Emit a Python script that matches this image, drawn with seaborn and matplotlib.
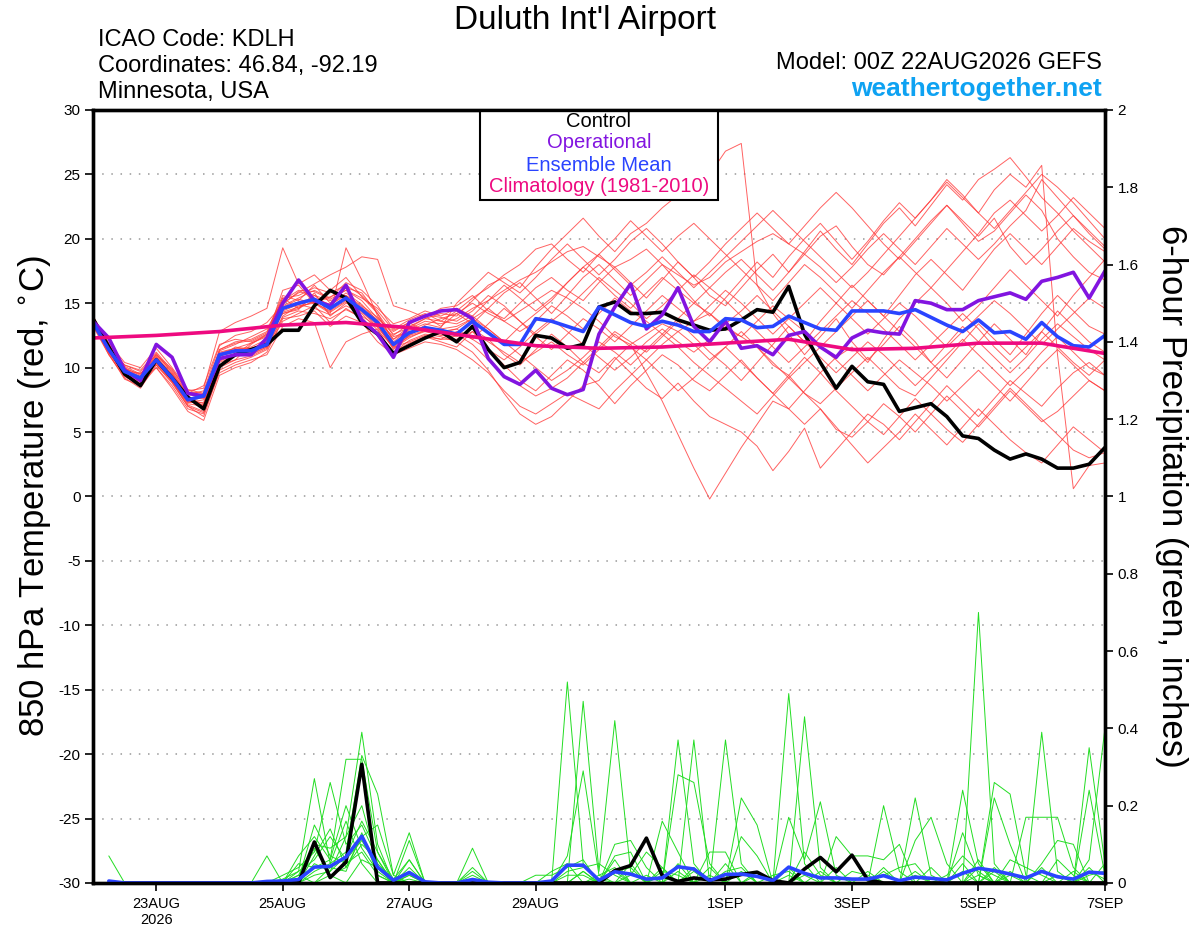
"""
GEFS meteogram - Duluth Int'l Airport (KDLH)
850 hPa temperature (red members) and 6-hour precipitation (green members)
"""

import numpy as np
import pandas as pd
import matplotlib
matplotlib.use("Agg")
import matplotlib.pyplot as plt
import matplotlib.ticker as mticker
from matplotlib.patches import Rectangle
import seaborn as sns

# ── Data ──────────────────────────────────────────────────────────────────────
TIMES = pd.date_range("2026-08-22 00:00", periods=65, freq="6h")
PCP_TIMES = TIMES[1:]
CLIM_TIMES = pd.date_range("2026-08-22 00:00", periods=17, freq="D")

CONTROL_T = [13.8, 11.6, 9.5, 8.6, 10.6, 9.2, 7.7, 6.8, 10.1, 11.0, 11.4, 11.8, 12.9,
             12.9, 14.8, 16.0, 15.4, 13.5, 12.6, 11.1, 11.7, 12.3, 12.8,
             12.0, 13.2, 11.4, 10.0, 10.4, 12.5, 12.3, 11.5, 11.8, 14.7, 15.1, 14.2,
             14.2, 14.3, 13.7, 13.3, 12.9, 13.0, 13.7, 14.5, 14.3, 16.3,
             12.6, 10.4, 8.4, 10.1, 8.9, 8.7, 6.6, 6.9, 7.2, 6.2, 4.7, 4.5, 3.6, 2.9,
             3.3, 2.9, 2.2, 2.2, 2.5, 3.8]
OPER_T = [13.6, 12.3, 9.8, 9.0, 11.8, 10.8, 8.0, 7.8, 10.7, 11.0, 11.0, 12.3, 15.0,
          16.8, 15.2, 14.8, 16.4, 13.7, 12.6, 10.8, 13.5, 14.0, 14.4,
          14.5, 13.8, 10.7, 9.3, 8.7, 9.8, 8.4, 7.9, 8.3, 12.6, 14.7, 16.5,
          13.0, 14.1, 16.2, 13.2, 12.0, 13.6, 11.5, 11.7, 11.0, 12.5,
          12.8, 11.6, 10.8, 12.3, 12.9, 12.7, 12.6, 15.2, 15.0, 14.5, 14.5, 15.2,
          15.5, 15.8, 15.3, 16.7, 17.0, 17.4, 15.4, 17.5]
MEAN_T = [13.5, 11.4, 9.7, 9.2, 10.6, 9.2, 7.5, 7.8, 11.0, 11.3, 11.3, 11.8, 14.6,
          15.0, 15.3, 14.6, 15.4, 14.5, 13.5, 11.8, 12.7, 13.1, 12.9,
          12.6, 13.6, 12.7, 11.8, 11.8, 13.8, 13.6, 13.2, 12.8, 14.7, 14.1, 13.5,
          13.2, 13.6, 13.3, 12.8, 12.8, 13.8, 13.7, 13.1, 13.2, 14.0,
          13.5, 13.0, 12.9, 14.4, 14.4, 14.4, 14.2, 14.5, 13.9, 13.3, 12.8, 13.7,
          12.7, 12.8, 12.2, 13.5, 12.4, 11.7, 11.6, 12.5]
CLIM_T = [12.3, 12.5, 12.8, 13.3, 13.5, 13.1, 12.4, 11.7, 11.5, 11.6, 11.9, 12.2,
          11.4, 11.5, 11.9, 11.9, 11.1]

MEMBERS_T = [
    [13.9, 11.8, 10.0, 9.4, 10.9, 9.5, 7.8, 7.0, 11.4, 12.0, 12.2, 12.8, 15.6, 15.2, 16.4, 15.0, 16.2, 15.8, 14.2, 12.0, 13.0, 13.6, 13.4,
     13.8, 14.6, 15.2, 16.0, 16.8, 17.4, 18.2, 19.0, 19.4, 18.6, 17.8, 18.4, 19.2, 18.0, 17.2, 16.4, 17.0, 18.2,
     19.0, 19.8, 20.4, 19.6, 18.8, 20.2, 21.0, 19.4, 18.0, 17.2, 18.6, 20.0, 21.4, 22.6, 21.2, 19.8, 20.6, 22.0, 23.4, 22.2, 20.0, 18.6, 17.4, 16.8],
    [13.4, 11.0, 9.2, 8.4, 10.2, 8.8, 7.0, 6.2, 9.8, 10.4, 10.8, 11.4, 13.6, 14.2, 14.8, 13.5, 14.6, 13.8, 12.7, 11.2, 12.1, 12.6, 12.4,
     12.0, 11.2, 9.8, 8.0, 6.4, 5.6, 6.2, 7.4, 8.6, 9.0, 10.6, 11.8, 12.6, 13.4, 12.8, 13.6, 14.2, 13.0,
     12.4, 11.6, 10.2, 9.4, 8.0, 7.2, 8.4, 9.6, 10.8, 9.6, 8.4, 7.8, 9.2, 10.6, 12.0, 13.4, 12.2, 11.0, 12.6, 14.2, 15.6, 14.4, 13.2, 12.6],
    [13.7, 11.5, 10.2, 9.8, 11.2, 9.8, 8.2, 8.4, 12.8, 13.5, 14.0, 14.6, 19.3, 16.5, 17.2, 16.0, 17.0, 15.5, 14.2, 12.5, 13.4, 14.0, 13.2,
     14.2, 15.0, 14.2, 13.6, 14.4, 15.2, 16.0, 15.4, 14.6, 13.6, 12.4, 11.8, 9.6, 7.4, 4.8, 2.2, -0.2, 1.8,
     3.8, 5.6, 7.4, 6.8, 8.2, 9.6, 10.8, 11.6, 10.4, 12.2, 13.8, 15.0, 16.2, 15.0, 13.6, 14.8, 16.2, 17.6, 16.4, 15.2, 14.0, 15.6, 17.0, 18.4],
    [13.6, 11.2, 9.4, 8.9, 10.4, 9.0, 7.3, 7.5, 10.4, 10.9, 11.0, 11.6, 14.0, 14.8, 15.0, 14.2, 19.3, 16.8, 14.0, 12.2, 13.2, 13.8, 14.2,
     14.0, 15.2, 16.4, 17.0, 16.2, 17.8, 19.2, 20.4, 21.6, 20.2, 19.0, 20.4, 21.2, 22.4, 23.4, 24.4, 25.0, 26.8,
     27.4, 16.4, 14.2, 12.6, 11.0, 12.4, 13.8, 12.0, 10.6, 11.8, 13.2, 12.0, 10.4, 9.2, 10.6, 12.0, 13.4, 12.2, 11.0, 12.8, 14.4, 13.2, 12.0, 11.2],
    [13.5, 11.6, 10.0, 9.0, 10.8, 9.3, 7.6, 7.2, 10.8, 11.6, 11.4, 12.0, 15.0, 15.8, 16.5, 17.2, 17.8, 18.6, 18.4, 14.8, 14.4, 13.9, 14.6,
     14.8, 15.6, 14.4, 13.8, 15.0, 16.2, 17.0, 16.0, 15.2, 16.6, 17.8, 16.6, 15.4, 16.8, 18.2, 17.0, 15.6, 14.8,
     16.2, 17.6, 18.8, 17.4, 19.0, 20.6, 19.2, 18.0, 19.6, 21.2, 22.4, 21.0, 22.6, 24.2, 23.0, 24.6, 25.4, 26.3, 24.8, 23.2, 22.0, 20.6, 19.4, 18.2],
    [13.8, 11.4, 9.6, 9.6, 10.2, 8.9, 7.0, 6.5, 9.6, 10.2, 10.6, 11.0, 13.2, 13.8, 13.5, 10.0, 12.0, 12.6, 13.0, 11.0, 11.8, 12.4, 12.0,
     11.6, 12.8, 11.4, 10.2, 9.0, 8.2, 9.4, 10.6, 9.8, 8.6, 7.2, 8.6, 9.8, 11.0, 10.2, 9.0, 8.2, 9.4,
     10.6, 9.2, 8.0, 6.8, 5.6, 6.8, 5.2, 4.6, 5.8, 7.2, 6.2, 5.0, 6.4, 7.8, 6.6, 5.4, 6.8, 8.2, 7.0, 5.8, 6.6, 7.8, 9.0, 8.2],
    [13.2, 11.0, 9.3, 8.7, 10.6, 9.5, 7.9, 8.2, 11.7, 12.5, 12.8, 13.5, 14.9, 15.9, 15.6, 14.7, 15.3, 14.0, 13.2, 11.5, 12.3, 12.9, 13.0,
     13.2, 13.8, 14.6, 13.6, 12.8, 13.6, 14.8, 14.0, 13.0, 14.2, 15.4, 14.4, 13.6, 12.6, 13.8, 15.0, 14.2, 13.2,
     12.4, 13.6, 14.8, 13.8, 12.8, 11.6, 12.8, 14.0, 15.2, 14.0, 12.8, 11.6, 10.4, 11.8, 13.2, 12.0, 10.8, 9.6, 10.8, 12.2, 13.4, 12.4, 11.4, 10.6],
    [14.0, 11.9, 10.4, 10.0, 11.5, 10.0, 8.3, 8.0, 11.2, 11.5, 11.9, 12.4, 16.0, 16.4, 15.0, 15.5, 16.0, 15.2, 13.8, 12.8, 13.5, 12.8, 12.5,
     12.4, 13.0, 12.2, 11.0, 10.2, 11.4, 12.6, 11.6, 10.4, 9.6, 10.8, 9.6, 8.4, 7.6, 8.8, 7.4, 6.2, 5.6,
     5.0, 3.9, 2.0, 3.5, 5.3, 2.2, 3.6, 5.0, 6.4, 5.6, 4.4, 5.8, 7.2, 8.6, 7.4, 6.2, 7.6, 9.0, 8.0, 7.0, 8.4, 9.6, 10.4, 9.4],
    [13.3, 11.3, 9.5, 9.0, 10.0, 8.6, 6.8, 6.4, 10.2, 10.6, 11.8, 12.6, 14.2, 14.5, 15.8, 14.0, 15.0, 14.6, 13.4, 11.4, 12.5, 13.3, 13.8,
     14.2, 13.4, 14.6, 15.8, 16.6, 15.4, 14.2, 15.6, 17.0, 18.0, 16.8, 15.6, 16.8, 18.0, 16.6, 15.2, 14.0, 15.4,
     16.8, 18.2, 17.0, 18.6, 20.0, 21.2, 19.8, 18.4, 19.8, 21.4, 22.8, 21.6, 23.0, 24.6, 23.4, 22.0, 23.8, 25.0, 24.0, 25.7, 11.0, 0.6, 2.4, 2.6],
    [13.6, 11.7, 9.9, 9.3, 11.0, 9.7, 8.0, 8.6, 11.8, 12.2, 12.0, 12.6, 15.4, 14.6, 15.2, 14.8, 15.8, 14.9, 13.6, 12.4, 12.8, 13.0, 12.6,
     12.6, 11.8, 10.6, 9.4, 8.6, 7.8, 8.4, 9.2, 10.4, 11.6, 12.8, 12.0, 11.2, 12.4, 13.6, 12.4, 11.2, 10.2,
     9.0, 10.4, 11.8, 13.2, 12.0, 13.6, 15.0, 16.4, 15.2, 14.0, 15.6, 17.2, 18.4, 17.2, 16.0, 17.6, 19.2, 20.4, 19.2, 18.0, 19.4, 20.8, 19.8, 19.0],
    [13.5, 11.1, 9.1, 8.6, 10.0, 8.4, 6.6, 5.9, 9.4, 10.0, 10.4, 11.2, 13.8, 14.0, 14.4, 13.2, 14.0, 13.5, 12.0, 11.0, 11.5, 12.0, 11.8,
     11.4, 10.6, 9.6, 8.2, 7.0, 6.4, 7.2, 8.0, 7.4, 6.8, 8.2, 9.4, 10.6, 9.4, 8.2, 9.2, 10.4, 11.6,
     10.4, 9.2, 8.0, 9.4, 10.8, 9.6, 8.2, 7.0, 5.8, 4.8, 6.2, 7.6, 6.4, 5.2, 4.2, 5.6, 7.0, 8.4, 7.2, 6.0, 4.8, 3.6, 3.0, 3.4],
    [13.9, 11.6, 10.1, 9.5, 10.7, 9.1, 7.4, 7.7, 11.0, 11.4, 11.6, 12.2, 14.8, 15.4, 16.0, 15.4, 16.6, 16.0, 14.8, 13.0, 13.7, 14.2, 13.6,
     14.4, 15.4, 16.2, 17.2, 18.0, 19.2, 19.6, 18.4, 17.4, 18.8, 20.0, 21.4, 20.2, 19.0, 20.2, 21.2, 20.0, 18.8,
     17.6, 16.4, 15.2, 16.6, 18.0, 17.0, 15.8, 14.6, 16.0, 17.4, 18.6, 17.4, 16.2, 17.6, 19.0, 20.4, 22.0, 23.0, 21.8, 20.6, 21.8, 23.2, 22.0, 20.8],
    [13.4, 11.3, 9.8, 9.1, 10.5, 9.0, 7.2, 7.0, 10.6, 11.0, 11.2, 11.9, 14.4, 14.9, 14.6, 14.1, 14.8, 14.2, 12.9, 11.6, 12.0, 12.5, 12.2,
     12.2, 12.8, 12.0, 11.2, 10.4, 11.2, 12.0, 11.0, 10.2, 11.4, 12.6, 11.6, 10.6, 11.8, 12.8, 11.8, 10.6, 11.6,
     12.8, 11.6, 10.4, 9.2, 10.4, 11.6, 10.6, 9.4, 8.2, 9.4, 10.6, 9.6, 8.6, 7.4, 8.6, 9.8, 8.6, 7.4, 8.8, 10.2, 11.4, 10.2, 9.0, 8.2],
    [13.7, 11.5, 9.7, 9.2, 10.8, 9.4, 7.7, 7.6, 10.9, 11.2, 11.1, 11.6, 14.5, 15.1, 15.4, 14.9, 15.6, 14.7, 13.7, 12.2, 12.9, 13.4, 13.1,
     15.0, 16.2, 17.4, 16.6, 15.8, 17.0, 18.4, 19.6, 18.4, 17.2, 18.4, 19.8, 20.8, 19.6, 18.2, 17.0, 18.2, 19.6,
     20.8, 22.0, 20.8, 19.6, 21.0, 22.4, 23.6, 22.4, 21.0, 19.6, 18.4, 19.8, 21.2, 22.6, 21.4, 20.2, 21.6, 19.4, 18.0, 19.2, 20.6, 21.8, 20.4, 19.2],
    [13.5, 11.3, 9.6, 9.3, 10.7, 9.3, 7.6, 7.9, 11.1, 11.5, 11.5, 12.0, 14.7, 15.3, 15.0, 14.4, 15.2, 14.3, 13.3, 11.6, 12.5, 12.9, 12.8,
     13.0, 12.2, 13.4, 14.6, 13.6, 12.4, 11.4, 12.6, 13.8, 13.0, 12.0, 13.2, 14.4, 15.6, 14.6, 13.6, 14.8, 16.0,
     15.0, 13.8, 12.6, 13.8, 15.0, 16.2, 15.0, 13.8, 12.6, 13.8, 15.0, 14.0, 12.8, 11.6, 12.8, 14.0, 15.2, 14.2, 13.0, 11.8, 13.0, 14.2, 15.4, 14.6],
    [13.8, 11.7, 9.8, 9.0, 10.4, 9.1, 7.4, 7.1, 10.5, 11.0, 11.9, 12.5, 14.2, 14.6, 15.6, 15.2, 15.6, 14.8, 13.9, 12.6, 13.1, 13.8, 13.6,
     13.4, 14.0, 13.0, 12.0, 11.0, 10.0, 9.0, 9.8, 10.8, 12.0, 11.2, 10.2, 11.4, 12.6, 11.6, 10.4, 9.4, 8.4,
     7.4, 6.4, 7.8, 9.2, 8.0, 6.8, 5.4, 4.0, 2.6, 3.8, 5.0, 6.4, 5.2, 4.0, 5.4, 6.8, 5.6, 4.4, 3.4, 2.6, 4.0, 5.4, 4.4, 3.4],
    [13.6, 11.4, 9.9, 9.5, 11.1, 9.6, 7.9, 7.8, 11.3, 11.8, 12.4, 13.0, 15.2, 16.0, 15.9, 15.3, 16.0, 15.4, 14.6, 13.4, 13.8, 14.4, 14.0,
     14.6, 14.0, 15.2, 16.4, 15.4, 14.4, 15.4, 16.6, 17.8, 16.8, 15.6, 14.6, 15.8, 17.0, 16.0, 15.0, 16.2, 17.4,
     18.4, 17.2, 16.0, 17.4, 18.8, 17.8, 16.6, 17.8, 19.2, 20.4, 19.2, 18.0, 19.4, 20.8, 19.6, 18.4, 19.6, 21.0, 22.2, 24.6, 23.2, 21.8, 20.6, 19.4],
    [13.3, 11.2, 9.4, 8.8, 10.3, 8.9, 7.1, 6.6, 10.0, 10.6, 10.9, 11.5, 13.9, 14.4, 14.2, 13.8, 14.5, 13.9, 12.6, 11.2, 11.9, 12.4, 12.2,
     12.8, 12.2, 11.4, 10.6, 11.6, 12.8, 13.8, 12.8, 11.8, 10.8, 9.8, 10.8, 12.0, 13.0, 12.0, 11.2, 12.2, 13.4,
     14.4, 15.6, 14.4, 13.2, 12.0, 10.8, 9.6, 10.8, 12.0, 11.0, 9.8, 8.6, 9.8, 11.0, 12.2, 11.0, 9.8, 8.6, 9.8, 11.2, 12.4, 11.2, 10.0, 9.4],
    [13.9, 11.8, 10.2, 9.7, 11.0, 9.9, 8.1, 8.0, 11.4, 11.9, 12.1, 12.7, 15.4, 15.6, 16.2, 15.8, 16.4, 15.6, 14.4, 12.9, 13.5, 14.1, 13.9,
     13.6, 14.4, 15.6, 14.8, 13.6, 12.6, 13.6, 14.6, 15.8, 17.0, 16.0, 15.0, 13.8, 14.8, 16.0, 17.2, 16.2, 15.2,
     14.0, 12.8, 11.6, 10.4, 11.6, 12.8, 14.0, 15.2, 14.2, 13.0, 11.8, 10.6, 11.8, 13.0, 14.2, 13.0, 11.6, 10.4, 11.6, 12.8, 11.6, 10.4, 9.4, 10.6],
    [13.4, 11.3, 9.5, 9.1, 10.5, 9.0, 7.3, 7.3, 10.6, 11.1, 11.2, 11.7, 14.3, 14.7, 15.1, 14.3, 15.1, 14.4, 13.1, 11.7, 12.4, 12.8, 12.7,
     13.0, 13.8, 13.0, 12.0, 13.2, 14.2, 15.2, 16.6, 17.8, 18.8, 17.6, 16.4, 17.4, 18.6, 17.4, 16.2, 17.4, 18.6,
     19.8, 21.0, 22.2, 21.0, 19.8, 18.6, 17.4, 16.2, 17.4, 18.8, 20.2, 21.6, 23.0, 24.4, 23.2, 22.0, 20.8, 22.2, 23.6, 25.0, 24.0, 22.8, 21.4, 20.0],
]

# 6-hour precipitation (inches), valid 06Z 22AUG .. 00Z 7SEP
CONTROL_P = [0, 0, 0, 0, 0, 0, 0, 0, 0, 0, 0, 0, 0,
             0.106, 0.014, 0.054, 0.307,
             0, 0, 0, 0, 0, 0, 0, 0, 0, 0, 0, 0, 0, 0, 0,
             0.032, 0.045, 0.116, 0.019, 0.004, 0.013, 0.008, 0.010, 0.022, 0.028,
             0.006, 0.0, 0.036, 0.066, 0.029, 0.072, 0.008,
             0, 0, 0, 0, 0, 0, 0, 0, 0, 0, 0, 0, 0, 0, 0]
MEAN_P = [0.005, 0, 0, 0, 0, 0, 0, 0, 0, 0,
          0.004, 0.005, 0.009, 0.041, 0.043, 0.067, 0.121, 0.041, 0.007, 0.027,
          0.003, 0.0, 0.0, 0.009, 0.002, 0.0, 0.0, 0.0, 0.005, 0.046,
          0.046, 0.007, 0.029, 0.023, 0.010, 0.013, 0.042, 0.036, 0.006, 0.022,
          0.023, 0.017, 0.006, 0.041, 0.025, 0.013, 0.013, 0.010, 0.010, 0.019,
          0.006, 0.015, 0.012, 0.008, 0.025, 0.038, 0.032, 0.023, 0.013, 0.030,
          0.016, 0.010, 0.028, 0.025]
# members: {6-hour step: precip}, steps without an entry are dry
MEMBERS_P = [
    {1: 0.07, 14: 0.05, 15: 0.03, 16: 0.12, 17: 0.39, 18: 0.10, 20: 0.04, 30: 0.52, 31: 0.05,
     33: 0.06, 37: 0.37, 38: 0.05, 44: 0.49, 45: 0.05, 50: 0.04, 56: 0.70, 57: 0.05, 63: 0.06, 64: 0.40},
    {13: 0.03, 14: 0.27, 15: 0.05, 16: 0.08, 17: 0.33, 18: 0.23, 19: 0.02, 20: 0.13, 31: 0.47, 32: 0.03,
     33: 0.42, 34: 0.03, 38: 0.37, 40: 0.05, 45: 0.43, 46: 0.04, 52: 0.22, 53: 0.02, 60: 0.39, 61: 0.03},
    {12: 0.02, 13: 0.04, 14: 0.08, 15: 0.26, 16: 0.10, 17: 0.15, 18: 0.06, 20: 0.11, 24: 0.09, 30: 0.07,
     31: 0.29, 32: 0.02, 36: 0.16, 37: 0.08, 40: 0.37, 41: 0.05, 50: 0.20, 51: 0.03, 55: 0.24, 56: 0.05,
     63: 0.35, 64: 0.05},
    {11: 0.07, 13: 0.07, 14: 0.12, 15: 0.06, 16: 0.32, 17: 0.32, 18: 0.08, 20: 0.06, 24: 0.04, 29: 0.03,
     30: 0.05, 33: 0.10, 34: 0.11, 35: 0.04, 37: 0.28, 38: 0.26, 39: 0.05, 41: 0.22, 42: 0.15,
     57: 0.26, 58: 0.23, 59: 0.02},
    {13: 0.02, 14: 0.10, 15: 0.09, 16: 0.12, 17: 0.20, 18: 0.05, 19: 0.01, 20: 0.06, 24: 0.03, 28: 0.02,
     29: 0.02, 30: 0.04, 31: 0.06, 33: 0.07, 34: 0.08, 36: 0.04, 39: 0.08, 40: 0.08, 44: 0.17, 45: 0.06,
     46: 0.21, 47: 0.02, 52: 0.11, 53: 0.17, 54: 0.05, 57: 0.22, 58: 0.10, 63: 0.24, 64: 0.02},
    {14: 0.07, 15: 0.14, 16: 0.04, 17: 0.12, 18: 0.15, 19: 0.02, 34: 0.02, 35: 0.08, 36: 0.04, 41: 0.12,
     42: 0.07, 47: 0.12, 48: 0.07, 49: 0.07, 50: 0.06, 51: 0.10, 55: 0.13, 56: 0.02, 59: 0.17, 60: 0.17,
     61: 0.17, 62: 0.04},
    {13: 0.05, 14: 0.04, 15: 0.06, 16: 0.20, 17: 0.09, 18: 0.03, 30: 0.03, 31: 0.04, 32: 0.05, 33: 0.02,
     37: 0.05, 39: 0.02, 45: 0.02, 50: 0.02, 51: 0.04, 52: 0.05, 56: 0.04, 57: 0.02, 60: 0.05, 61: 0.11,
     62: 0.10, 64: 0.05},
    {12: 0.01, 13: 0.03, 14: 0.06, 15: 0.12, 16: 0.06, 17: 0.11, 18: 0.04, 20: 0.02, 31: 0.03, 33: 0.03,
     34: 0.04, 38: 0.03, 42: 0.03, 44: 0.04, 46: 0.03, 54: 0.02, 55: 0.07, 56: 0.03, 58: 0.06, 59: 0.04,
     60: 0.02, 63: 0.03, 64: 0.01},
    {14: 0.02, 15: 0.03, 16: 0.07, 17: 0.16, 18: 0.08, 19: 0.01, 30: 0.02, 31: 0.02, 36: 0.03, 37: 0.02,
     40: 0.03, 41: 0.04, 48: 0.03, 49: 0.02, 53: 0.04, 55: 0.05, 57: 0.03, 61: 0.06, 62: 0.02},
    {13: 0.01, 14: 0.15, 15: 0.07, 16: 0.05, 17: 0.08, 18: 0.02, 20: 0.03, 24: 0.02, 32: 0.02, 33: 0.04,
     35: 0.02, 38: 0.04, 43: 0.02, 44: 0.03, 47: 0.04, 52: 0.03, 56: 0.06, 58: 0.03, 63: 0.02, 64: 0.03},
    {14: 0.03, 15: 0.05, 16: 0.16, 17: 0.05, 20: 0.02, 33: 0.03, 39: 0.04, 45: 0.08, 46: 0.02, 55: 0.03,
     60: 0.04},
    {13: 0.02, 15: 0.04, 16: 0.03, 17: 0.13, 18: 0.02, 31: 0.03, 34: 0.05, 42: 0.02, 49: 0.03, 57: 0.04,
     62: 0.03},
    {14: 0.09, 15: 0.02, 17: 0.06, 18: 0.04, 32: 0.01, 36: 0.02, 41: 0.03, 52: 0.02, 58: 0.02, 63: 0.04},
    {15: 0.02, 16: 0.04, 17: 0.10, 18: 0.06, 20: 0.01, 37: 0.03, 44: 0.02, 50: 0.03, 56: 0.02, 61: 0.02},
]

TICK_DATES = ["2026-08-23", "2026-08-25", "2026-08-27", "2026-08-29",
              "2026-09-01", "2026-09-03", "2026-09-05", "2026-09-07"]
TICK_LABELS = ["23AUG\n2026", "25AUG", "27AUG", "29AUG", "1SEP", "3SEP", "5SEP", "7SEP"]

# ── Style ─────────────────────────────────────────────────────────────────────
sns.set_theme(style="ticks")
plt.rcParams["font.family"] = ["Liberation Sans", "DejaVu Sans"]
plt.rcParams.update({
    "axes.unicode_minus": False,
    "text.color": "black",
    "axes.labelcolor": "black",
    "xtick.color": "black",
    "ytick.color": "black",
})

C_MEMBER_T = "#ff3b3b"
C_MEMBER_P = "#22dd22"
C_CONTROL = "black"
C_OPER = "#8214e0"
C_MEAN = "#2a44ff"
C_CLIM = "#ee0a80"

# long-form tables for the ensemble members
temp_long = pd.DataFrame({
    "time": np.tile(TIMES.values, len(MEMBERS_T)),
    "temp": np.concatenate(MEMBERS_T),
    "member": np.repeat(np.arange(len(MEMBERS_T)), len(TIMES)),
})
pcp_rows = [[m.get(i, 0.0) for i in range(1, len(TIMES))] for m in MEMBERS_P]
pcp_long = pd.DataFrame({
    "time": np.tile(PCP_TIMES.values, len(pcp_rows)),
    "pcp": np.concatenate(pcp_rows),
    "member": np.repeat(np.arange(len(pcp_rows)), len(PCP_TIMES)),
})

fig = plt.figure(figsize=(12, 9.27), dpi=100)
ax = fig.add_axes([0.0775, 0.0475, 0.8433, 0.8339])

# ── Temperature (left axis) ──────────────────────────────────────────────────
sns.lineplot(data=temp_long, x="time", y="temp", units="member", estimator=None,
             color=C_MEMBER_T, lw=0.7, alpha=0.8, ax=ax, legend=False)
sns.lineplot(x=TIMES, y=CONTROL_T, color=C_CONTROL, lw=2.6, ax=ax)
sns.lineplot(x=TIMES, y=OPER_T, color=C_OPER, lw=2.6, ax=ax)
sns.lineplot(x=TIMES, y=MEAN_T, color=C_MEAN, lw=2.6, ax=ax)
sns.lineplot(x=CLIM_TIMES, y=CLIM_T, color=C_CLIM, lw=2.6, ax=ax)

ax.set_xlim(TIMES[0], TIMES[-1])
ax.set_ylim(-30, 30)
ax.set_yticks(np.arange(-30, 31, 5))
ax.set_xticks(pd.to_datetime(TICK_DATES))
ax.set_xticklabels(TICK_LABELS)
ax.set_xlabel("")
ax.set_ylabel("850 hPa Temperature (red, $^{\\circ}$C)", fontsize=25)
ax.yaxis.set_label_coords(-0.040, 0.5)
ax.yaxis.grid(True, linestyle=(0, (1, 5)), color="#999999", lw=1.1)
ax.xaxis.grid(False)
ax.set_axisbelow(True)
ax.tick_params(axis="y", direction="out", length=6, width=1.2, labelsize=11, pad=3)
ax.tick_params(axis="x", direction="out", length=6, width=1.2, labelsize=10.5, pad=4)
for side in ["left", "right", "bottom", "top"]:
    ax.spines[side].set_visible(True)
    ax.spines[side].set_color("black")
    ax.spines[side].set_linewidth(2.4)

# legend box
ax.add_patch(Rectangle((0.3824, 0.884), 0.2353, 0.116, transform=ax.transAxes,
                       facecolor="white", edgecolor="black", lw=1.5, zorder=5))
for y, txt, col in [(0.9845, "Control", C_CONTROL),
                    (0.9575, "Operational", C_OPER),
                    (0.9285, "Ensemble Mean", C_MEAN),
                    (0.9010, "Climatology (1981-2010)", C_CLIM)]:
    ax.text(0.5, y, txt, color=col, fontsize=14.5, ha="center", va="center",
            transform=ax.transAxes, zorder=6)

# ── Precipitation (right axis) ───────────────────────────────────────────────
ax2 = ax.twinx()
sns.lineplot(data=pcp_long, x="time", y="pcp", units="member", estimator=None,
             color=C_MEMBER_P, lw=0.7, ax=ax2, legend=False)
sns.lineplot(x=PCP_TIMES, y=CONTROL_P, color=C_CONTROL, lw=2.6, ax=ax2)
sns.lineplot(x=PCP_TIMES, y=MEAN_P, color=C_MEAN, lw=2.6, ax=ax2)
ax2.set_ylim(0, 2)
ax2.set_yticks(np.arange(0, 2.01, 0.2))
ax2.yaxis.set_major_formatter(mticker.FuncFormatter(lambda v, _: f"{v:g}"))
ax2.set_xlim(TIMES[0], TIMES[-1])
ax2.set_ylabel("6-hour Precipitation (green, inches)", fontsize=25,
               rotation=270, va="bottom")
ax2.yaxis.set_label_coords(1.049, 0.5)
ax2.tick_params(axis="y", direction="out", length=6, width=1.2, labelsize=11, pad=3)
ax2.grid(False)
for side in ["left", "right", "bottom", "top"]:
    ax2.spines[side].set_linewidth(2.4)
    ax2.spines[side].set_color("black")

# ── Header texts ─────────────────────────────────────────────────────────────
fig.text(0.4875, 0.978, "Duluth Int'l Airport", fontsize=24, ha="center", va="center")
fig.text(0.0817, 0.9565, "ICAO Code: KDLH", fontsize=17, ha="left", va="center")
fig.text(0.0817, 0.9285, "Coordinates: 46.84, -92.19", fontsize=17, ha="left", va="center")
fig.text(0.0817, 0.9005, "Minnesota, USA", fontsize=17, ha="left", va="center")
fig.text(0.9183, 0.9315, "Model: 00Z 22AUG2026 GEFS", fontsize=17, ha="right", va="center")
fig.text(0.9183, 0.9035, "weathertogether.net", fontsize=19, fontweight="bold",
         color="#0ea2f2", ha="right", va="center")

fig.savefig("out.png", dpi=100)
